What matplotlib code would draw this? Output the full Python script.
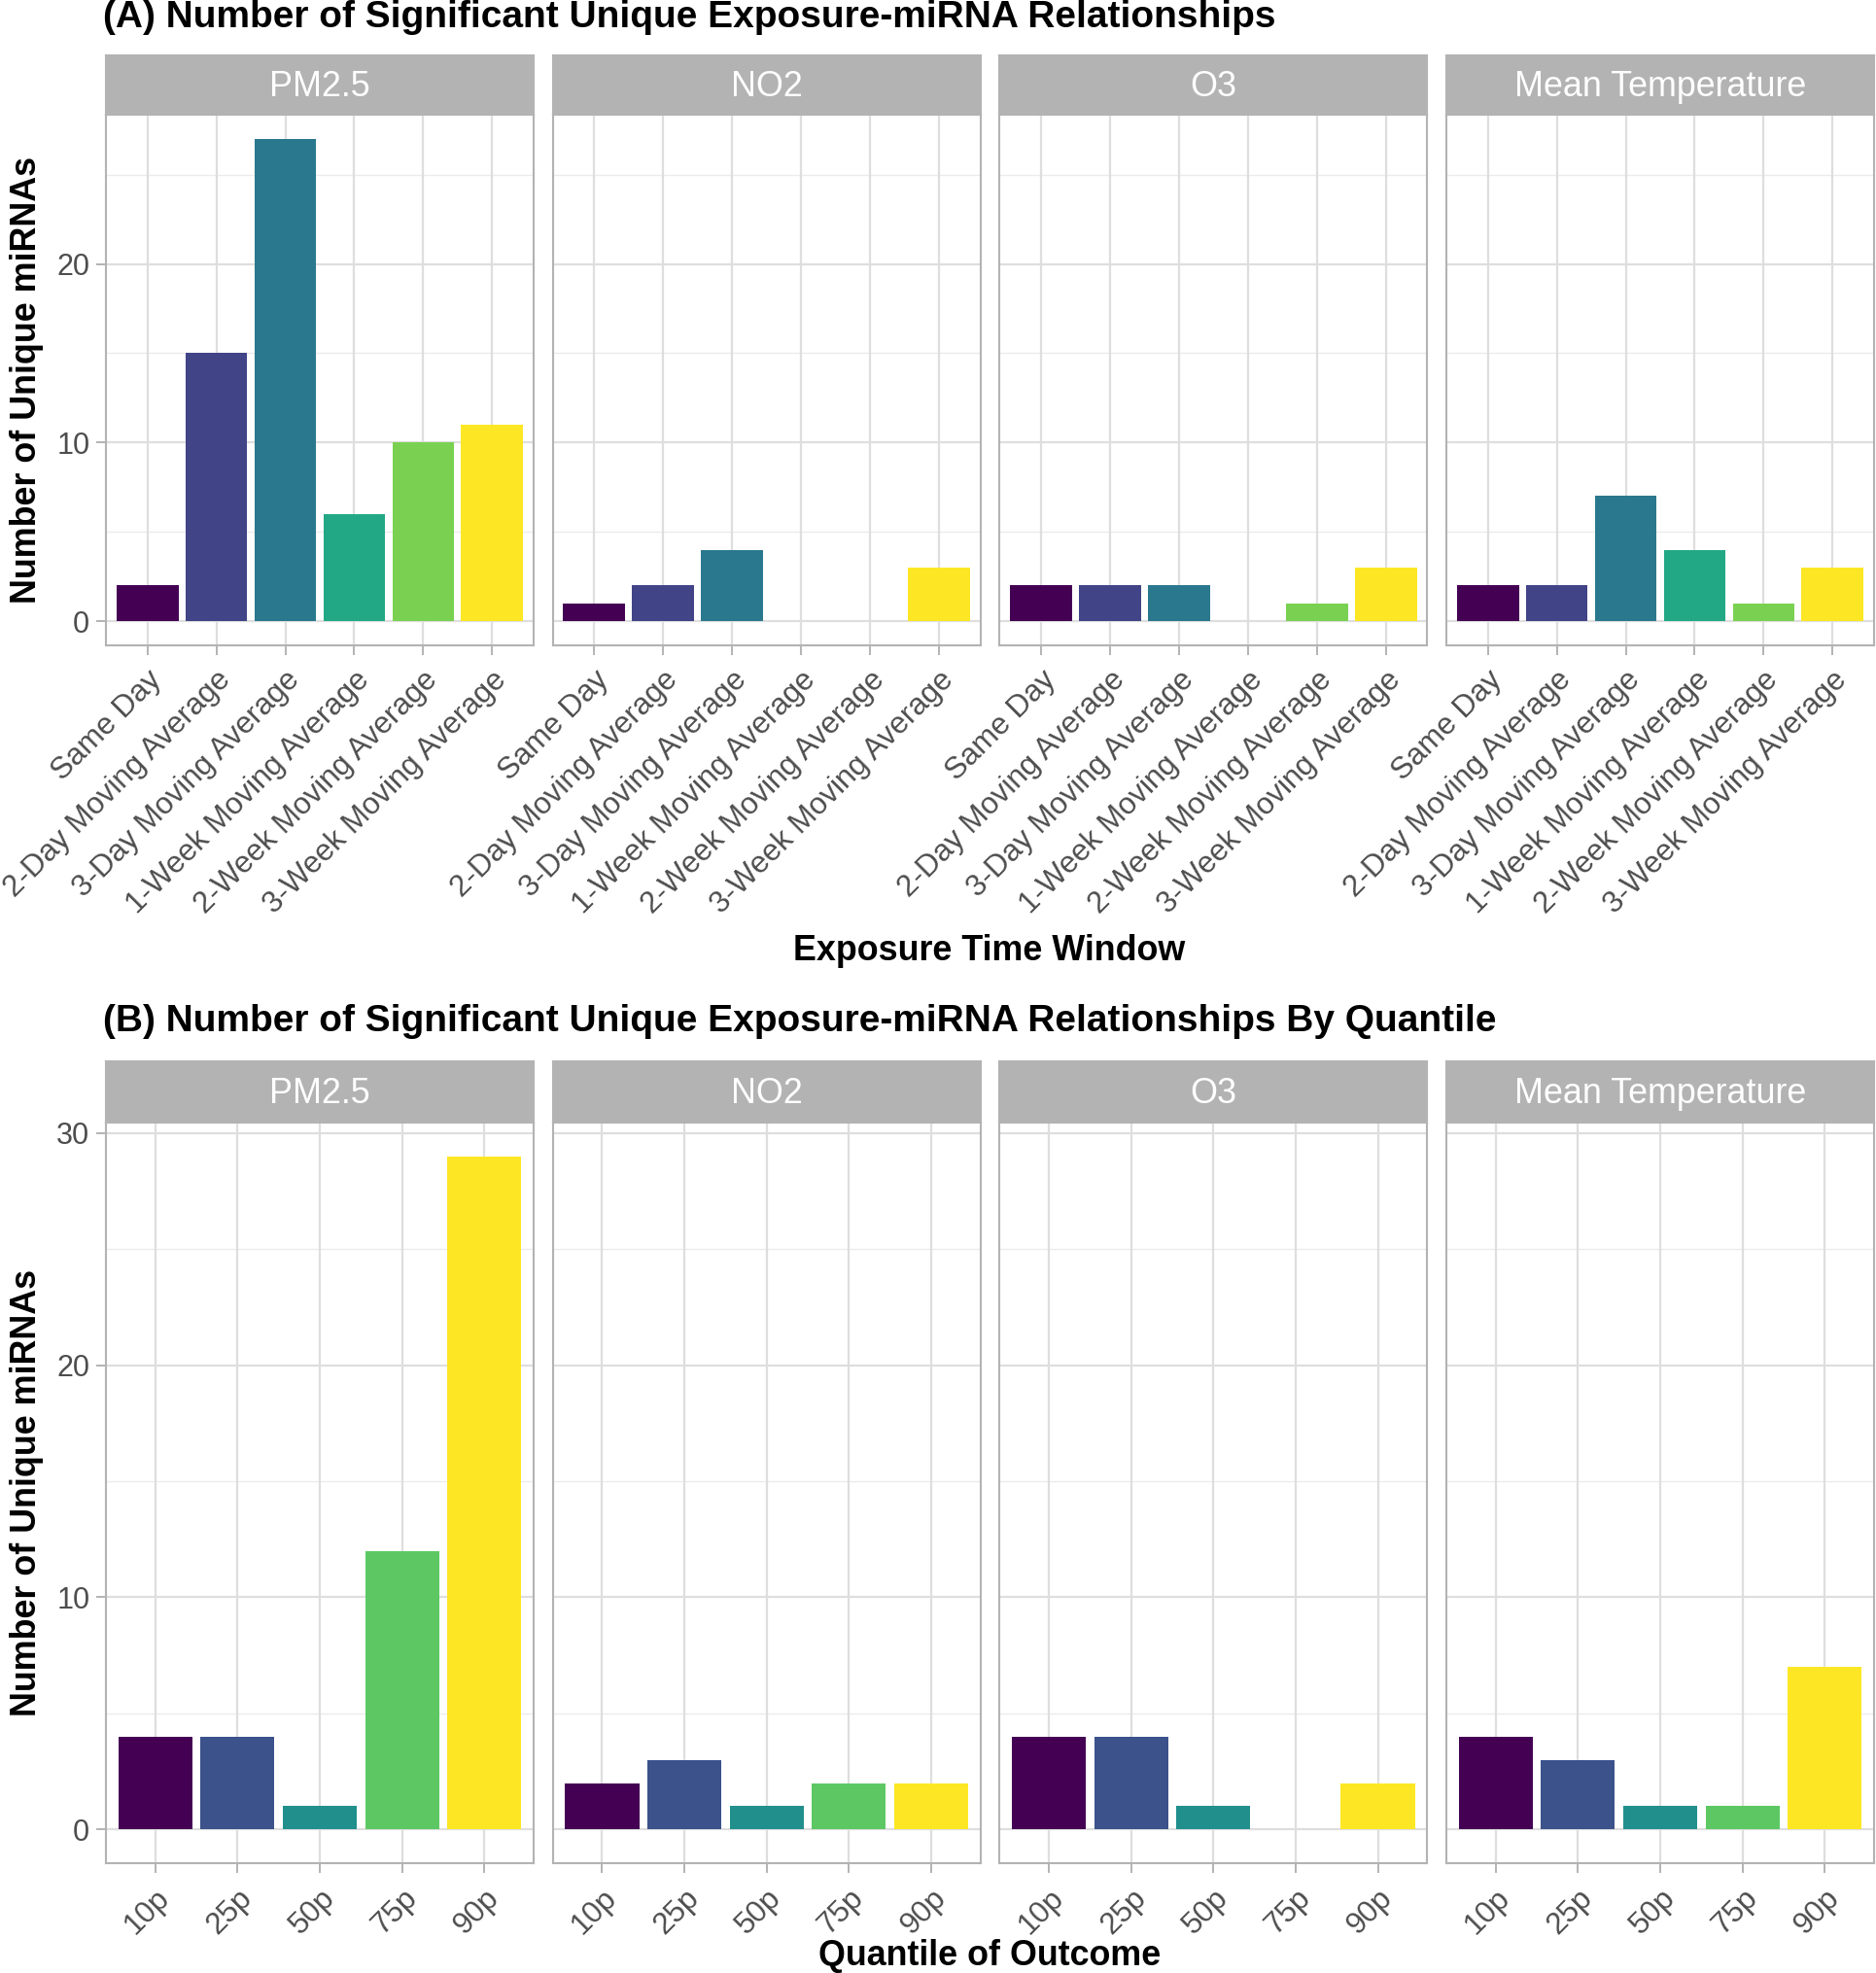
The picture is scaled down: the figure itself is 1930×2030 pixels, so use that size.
import numpy as np
import matplotlib.pyplot as plt
from matplotlib.ticker import FixedLocator

plt.rcParams['font.family'] = ['Liberation Sans', 'DejaVu Sans']

# ---- data ----
exposures = ['PM2.5', 'NO2', 'O3', 'Mean Temperature']

windows = ['Same Day', '2-Day Moving Average', '3-Day Moving Average',
           '1-Week Moving Average', '2-Week Moving Average', '3-Week Moving Average']
pm25_window = [2, 15, 27, 6, 10, 11]
no2_window = [1, 2, 4, 0, 0, 3]
o3_window = [2, 2, 2, 0, 1, 3]
temp_window = [2, 2, 7, 4, 1, 3]

quantiles = ['10p', '25p', '50p', '75p', '90p']
pm25_quant = [4, 4, 1, 12, 29]
no2_quant = [2, 3, 1, 2, 2]
o3_quant = [4, 4, 1, 0, 2]
temp_quant = [4, 3, 1, 1, 7]

window_colors = ['#440154', '#414487', '#2A788E', '#22A884', '#7AD151', '#FDE725']
quant_colors = ['#440154', '#3B528B', '#21908C', '#5DC863', '#FDE725']

W, H = 1931, 2030
fig = plt.figure(figsize=(W / 100, H / 100), dpi=100)

GREY70 = '#B3B3B3'
GREY87 = '#DEDEDE'
GREY30 = '#4D4D4D'

PANEL_X0 = 109
PANEL_W = 440
PANEL_GAP = (1928 - 109 - 4 * PANEL_W) / 3


def px_axes(x0, y0, x1, y1):
    return fig.add_axes([x0 / W, 1 - y1 / H, (x1 - x0) / W, (y1 - y0) / H])


def draw_row(series, labels, colors, strip_top, panel_top, panel_bottom,
             ymax, majors, minors):
    n = len(labels)
    ylo = -0.05 * ymax
    yhi = ymax * 1.05
    for i, (name, vals) in enumerate(zip(exposures, series)):
        x0 = PANEL_X0 + i * (PANEL_W + PANEL_GAP)
        x1 = x0 + PANEL_W
        # strip
        sax = px_axes(x0, strip_top, x1, panel_top)
        sax.set_facecolor(GREY70)
        sax.set_xticks([])
        sax.set_yticks([])
        for sp in sax.spines.values():
            sp.set_color(GREY70)
            sp.set_linewidth(1.5)
        sax.text(0.5, 0.47, name, color='white', fontsize=25.8,
                 ha='center', va='center', transform=sax.transAxes)
        # panel
        ax = px_axes(x0, panel_top, x1, panel_bottom)
        pos = np.arange(n)
        ax.set_xlim(-0.6, n - 0.4)
        ax.set_ylim(ylo, yhi)
        for m in minors:
            ax.axhline(m, color='#EBEBEB', lw=1.0, zorder=0)
        for m in majors:
            ax.axhline(m, color=GREY87, lw=1.6, zorder=0)
        for p in pos:
            ax.axvline(p, color=GREY87, lw=1.6, zorder=0)
        ax.bar(pos, vals, width=0.9, color=colors, linewidth=0, zorder=2)
        ax.set_xticks(pos)
        ax.set_xticklabels(labels, rotation=45, ha='right', va='top',
                           rotation_mode='anchor', fontsize=22.5, color=GREY30)
        ax.yaxis.set_major_locator(FixedLocator(majors))
        if i == 0:
            ax.set_yticklabels([str(m) for m in majors], fontsize=22, color=GREY30)
            ax.tick_params(axis='y', length=7, width=1.4, color=GREY70, pad=5)
        else:
            ax.tick_params(axis='y', length=0, labelleft=False)
        ax.tick_params(axis='x', length=7, width=1.4, color=GREY70, pad=8)
        for sp in ax.spines.values():
            sp.set_color(GREY70)
            sp.set_linewidth(1.5)


# (A) time windows
draw_row([pm25_window, no2_window, o3_window, temp_window], windows, window_colors,
         57, 118, 664, 27, [0, 10, 20], [5, 15, 25])
# (B) quantiles
draw_row([pm25_quant, no2_quant, o3_quant, temp_quant], quantiles, quant_colors,
         1092, 1155, 1917, 29, [0, 10, 20, 30], [5, 15, 25])

fig.text(106 / W, 1 - 18 / H, '(A) Number of Significant Unique Exposure-miRNA Relationships',
         fontsize=28, fontweight='bold', ha='left', va='center')
fig.text(106 / W, 1 - 1051 / H,
         '(B) Number of Significant Unique Exposure-miRNA Relationships By Quantile',
         fontsize=28, fontweight='bold', ha='left', va='center')

fig.text(28 / W, 1 - 391 / H, 'Number of Unique miRNAs', rotation=90,
         fontsize=25.8, fontweight='bold', ha='center', va='center')
fig.text(28 / W, 1 - 1536 / H, 'Number of Unique miRNAs', rotation=90,
         fontsize=25.8, fontweight='bold', ha='center', va='center')

fig.text(1018 / W, 1 - 978 / H, 'Exposure Time Window',
         fontsize=25.8, fontweight='bold', ha='center', va='center')
fig.text(1018 / W, 1 - 2013 / H, 'Quantile of Outcome',
         fontsize=25.8, fontweight='bold', ha='center', va='center')

fig.savefig('out.png', dpi=100, facecolor='white')
